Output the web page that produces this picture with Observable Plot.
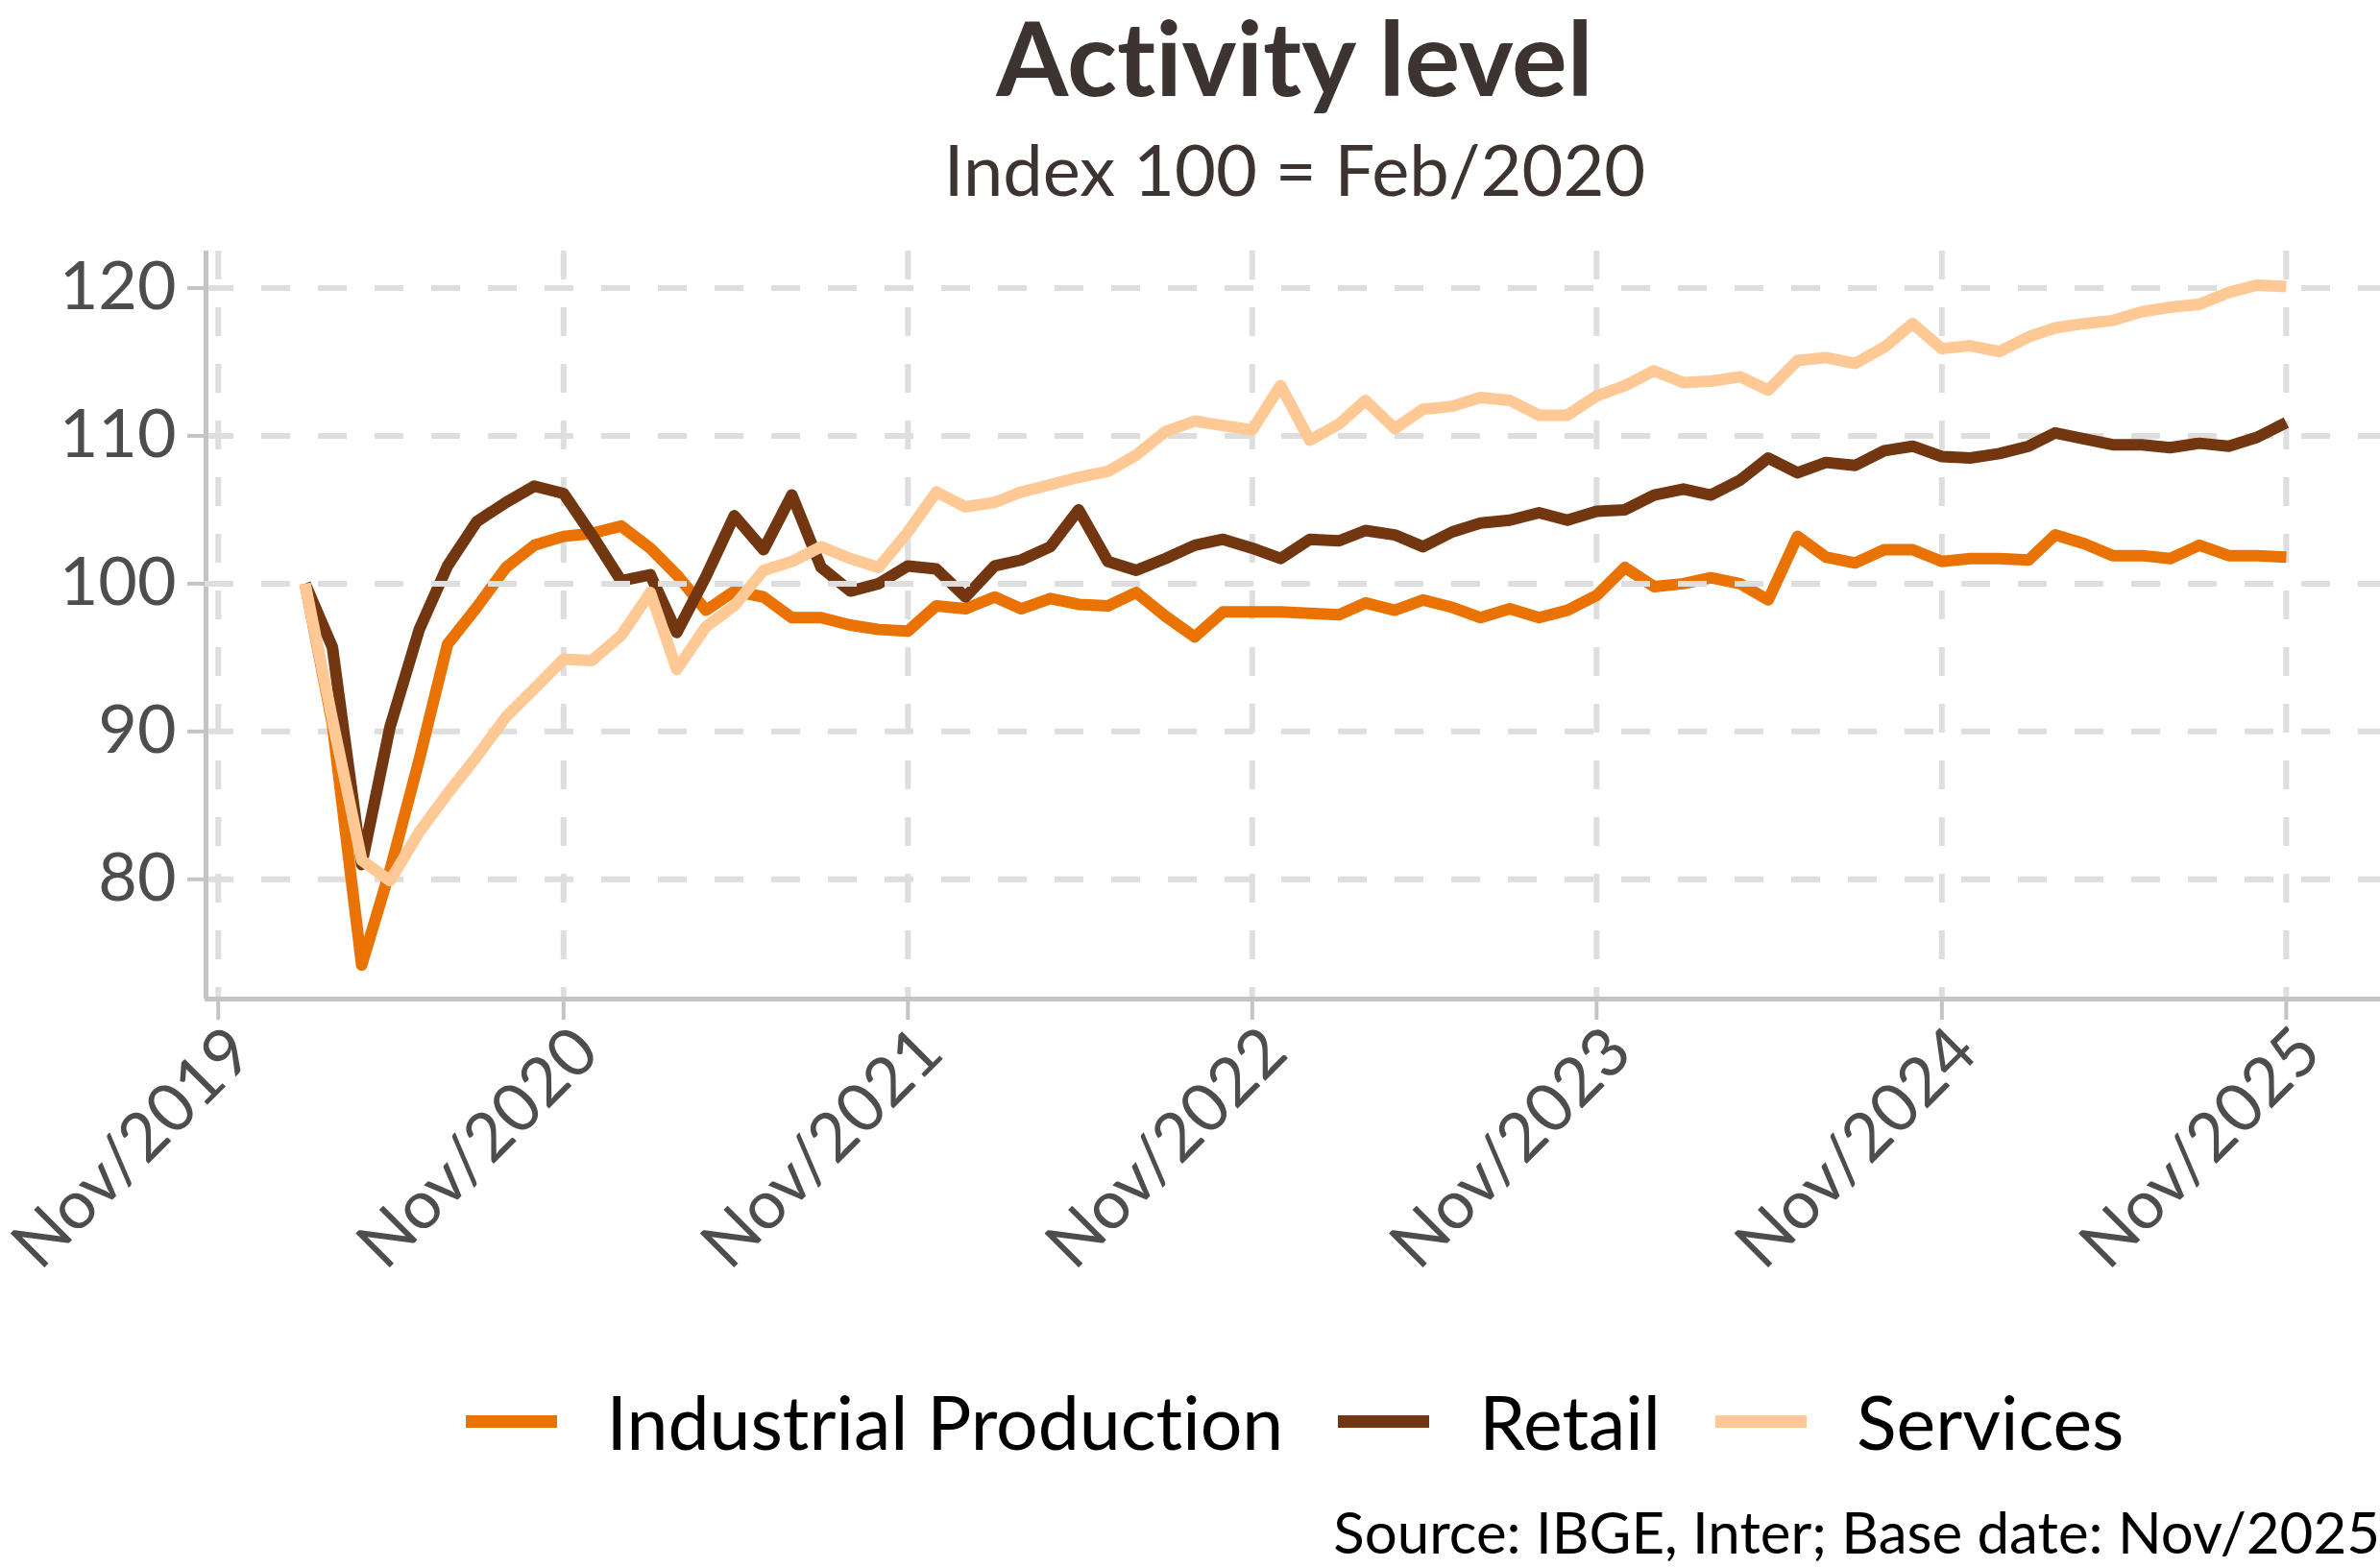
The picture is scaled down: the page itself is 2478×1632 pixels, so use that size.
<!DOCTYPE html>
<html>
<head>
<meta charset="utf-8">
<script src="https://cdn.jsdelivr.net/npm/d3@7"></script>
<script src="https://cdn.jsdelivr.net/npm/@observablehq/plot@0.6"></script>
<style>
  html, body { margin: 0; padding: 0; background: #ffffff; }
  body { width: 2478px; height: 1632px; position: relative; overflow: hidden; font-family: Lato, "Noto Sans", sans-serif; font-variant-ligatures: none; font-feature-settings: "liga" 0, "clig" 0; }
  svg, svg text { font-variant-ligatures: none; font-feature-settings: "liga" 0, "clig" 0; }
  .title { position: absolute; left: 213px; width: 2270px; text-align: center; line-height: 1; color: #3d3331; }
  #title { top: 4px; font-size: 108px; font-weight: 700; }
  #subtitle { top: 139px; font-size: 74px; font-weight: 400; }
  #chart { position: absolute; left: 0; top: 230px; }
  #legend { position: absolute; top: 1442px; left: 0; width: 2696px; display: flex; justify-content: center; align-items: center; font-size: 77px; line-height: 1; color: #000; }
  .item { display: flex; align-items: center; margin-right: 57px; }
  .item:last-child { margin-right: 0; }
  .key { width: 95px; height: 13px; margin-right: 52px; }
  #caption { position: absolute; right: 0; top: 1565px; font-size: 60px; line-height: 1; color: #000; white-space: nowrap; }
</style>
</head>
<body>
<div id="title" class="title">Activity level</div>
<div id="subtitle" class="title">Index 100 = Feb/2020</div>
<div id="chart"></div>
<div id="legend"></div>
<div id="caption">Source: IBGE, Inter; Base date: Nov/2025</div>
<script>
// ---- data ----
const firstMonth = "2020-02";   // Feb/2020 .. Nov/2025, monthly
const seriesNames = ["Industrial Production", "Retail", "Services"];
const seriesColors = ["#E97200", "#723610", "#FFC995"];

const industrial = [
  100.0, 90.5, 74.2, 80.6, 88.1, 95.9, 98.4, 101.1, 102.6, 103.2, 103.4, 103.9,
  102.4, 100.6, 98.2, 99.5, 99.1, 97.7, 97.7, 97.2, 96.9, 96.8, 98.5, 98.3,
  99.1, 98.3, 99.0, 98.6, 98.5, 99.4, 97.8, 96.4, 98.1, 98.1, 98.1, 98.0,
  97.9, 98.7, 98.2, 98.9, 98.4, 97.7, 98.3, 97.7, 98.2, 99.2, 101.1, 99.8,
  100.0, 100.4, 100.0, 98.9, 103.2, 101.8, 101.4, 102.3, 102.3, 101.5, 101.7, 101.7,
  101.6, 103.3, 102.7, 101.9, 101.9, 101.7, 102.6, 101.9, 101.9, 101.8
];
const retail = [
  100.0, 95.7, 81.0, 90.3, 96.9, 101.2, 104.2, 105.5, 106.6, 106.1, 103.3, 100.2,
  100.6, 96.7, 100.5, 104.6, 102.3, 106.0, 101.1, 99.5, 100.0, 101.2, 101.0, 99.1,
  101.2, 101.6, 102.5, 105.0, 101.5, 100.9, 101.7, 102.6, 103.0, 102.4, 101.7, 103.0,
  102.9, 103.6, 103.3, 102.5, 103.5, 104.1, 104.3, 104.8, 104.3, 104.9, 105.0, 106.0,
  106.4, 106.0, 107.0, 108.5, 107.5, 108.2, 108.0, 109.0, 109.3, 108.6, 108.5, 108.8,
  109.3, 110.2, 109.8, 109.4, 109.4, 109.2, 109.5, 109.3, 109.9, 110.9
];
const services = [
  100.0, 90.8, 81.3, 79.9, 83.2, 85.8, 88.3, 91.0, 92.9, 94.9, 94.8, 96.5,
  99.4, 94.2, 97.1, 98.5, 100.9, 101.5, 102.5, 101.7, 101.1, 103.5, 106.2, 105.2,
  105.5, 106.2, 106.7, 107.2, 107.6, 108.7, 110.3, 111.0, 110.7, 110.4, 113.4, 109.7,
  110.8, 112.4, 110.5, 111.8, 112.0, 112.6, 112.4, 111.4, 111.4, 112.7, 113.4, 114.4,
  113.6, 113.7, 114.0, 113.1, 115.1, 115.3, 114.9, 116.0, 117.6, 115.9, 116.1, 115.7,
  116.7, 117.3, 117.6, 117.8, 118.4, 118.7, 118.9, 119.7, 120.2, 120.1
];
const xTickLabels = ["2019-11", "2020-11", "2021-11", "2022-11", "2023-11", "2024-11", "2025-11"];
const yTicks = [80, 90, 100, 110, 120];
const refLevel = [100];

// ---- build table ----
const parseMonth = d3.utcParse("%Y-%m");
const start = parseMonth(firstMonth);
const seriesValues = [industrial, retail, services];
const data = [];
seriesNames.forEach((name, i) => {
  seriesValues[i].forEach((v, j) => {
    data.push({ date: d3.utcMonth.offset(start, j), value: v, series: name });
  });
});
const xTicks = xTickLabels.map(parseMonth);

// ggplot-like 5% expansion
const xExt = d3.extent(data, d => +d.date);
const xPad = (xExt[1] - xExt[0]) * 0.05;
const xDomain = [new Date(xExt[0] - xPad), new Date(xExt[1] + xPad)];
const yExt = d3.extent(data, d => d.value);
const yPad = (yExt[1] - yExt[0]) * 0.05;
const yDomain = [yExt[0] - yPad, yExt[1] + yPad];

const gridStyle = { stroke: "#dedede", strokeOpacity: 1, strokeWidth: 6, strokeDasharray: "30,29" };
const axisColor = "#c4c4c4";
const fmt = d3.utcFormat("%b/%Y");

const chart = Plot.plot({
  width: 2478,
  height: 1140,
  marginTop: 31,
  marginBottom: 330,
  marginLeft: 213,
  marginRight: 0,
  style: { fontFamily: "Lato, 'Noto Sans', sans-serif", background: "white", overflow: "visible", fontVariantLigatures: "none" },
  x: { type: "utc", domain: xDomain, range: [214, 2483], label: null },
  y: { domain: yDomain, label: null },
  color: { domain: seriesNames, range: seriesColors },
  marks: [
    Plot.gridY(yTicks, gridStyle),
    Plot.gridX(xTicks, gridStyle),
    Plot.ruleX([xDomain[0]], { stroke: axisColor, strokeWidth: 5 }),
    Plot.ruleY([yDomain[0]], { stroke: axisColor, strokeWidth: 5 }),
    Plot.axisY(yTicks, { tickSize: 18, tickPadding: 12, fontSize: 70, fill: "#4d4d4d", stroke: axisColor, strokeWidth: 4 }),
    // x tick marks
    Plot.axisX(xTicks, { tickSize: 22, fill: "none", stroke: axisColor, strokeWidth: 4 }),
    // x tick labels (rotated)
    Plot.axisX(xTicks, { tickSize: 0, tickPadding: 43, tickRotate: -45, tickFormat: fmt, fontSize: 70, dx: 24, fill: "#4d4d4d" }),
    Plot.line(data, { x: "date", y: "value", z: "series", stroke: "series", strokeWidth: 12, strokeLinejoin: "round", strokeLinecap: "butt" }),
    Plot.ruleY(refLevel, gridStyle)
  ]
});
document.getElementById("chart").appendChild(chart);

// ---- legend ----
const legend = document.getElementById("legend");
seriesNames.forEach((name, i) => {
  const item = document.createElement("div");
  item.className = "item";
  const key = document.createElement("div");
  key.className = "key";
  key.style.background = seriesColors[i];
  const label = document.createElement("span");
  label.textContent = name;
  item.appendChild(key);
  item.appendChild(label);
  legend.appendChild(item);
});
</script>
</body>
</html>
